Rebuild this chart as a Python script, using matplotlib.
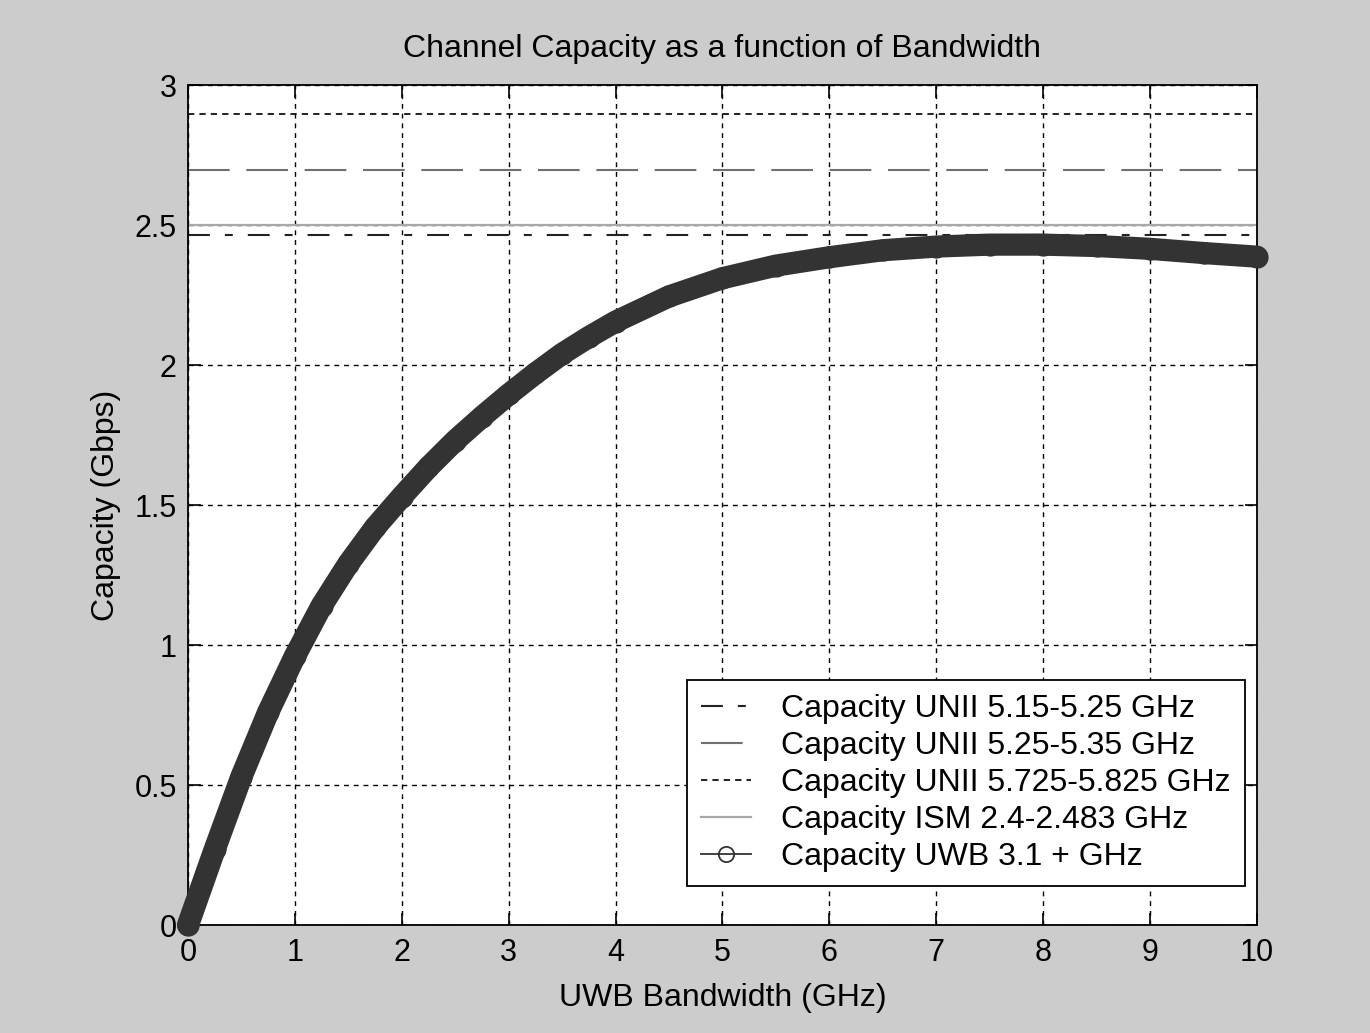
import matplotlib.pyplot as plt
from matplotlib.lines import Line2D

# UWB channel capacity vs. occupied bandwidth (GHz -> Gbps)
bandwidth = [0, 0.25, 0.5, 0.75, 1, 1.25, 1.5, 1.75, 2, 2.25, 2.5, 2.75, 3, 3.25,
             3.5, 3.75, 4, 4.5, 5, 5.5, 6, 6.5, 7, 7.5, 8, 8.5, 9, 9.5, 10]
capacity_uwb = [0, 0.27, 0.53, 0.76, 0.96, 1.14, 1.29, 1.42, 1.53, 1.635, 1.73, 1.815,
                1.895, 1.97, 2.04, 2.10, 2.155, 2.245, 2.31, 2.355, 2.385, 2.41, 2.423,
                2.43, 2.43, 2.425, 2.415, 2.40, 2.387]

# flat capacities of the narrowband allocations
cap_unii_low = 2.466    # UNII 5.15-5.25
cap_unii_mid = 2.695    # UNII 5.25-5.35
cap_unii_up = 2.897     # UNII 5.725-5.825
cap_ism = 2.50          # ISM 2.4-2.483

labels = ['Capacity UNII 5.15-5.25 GHz', 'Capacity UNII 5.25-5.35 GHz',
          'Capacity UNII 5.725-5.825 GHz', 'Capacity ISM 2.4-2.483 GHz',
          'Capacity UWB 3.1 + GHz']

plt.rcParams['font.family'] = ['Liberation Sans', 'DejaVu Sans']
FS = 23

fig = plt.figure(figsize=(13.7, 10.33), dpi=100, facecolor='#cccccc')
ax = fig.add_axes([0.1372, 0.1045, 0.7803, 0.8132])
ax.set_facecolor('white')

h1 = ax.axhline(cap_unii_low, color='#222222', lw=1.5, dashes=(10.5, 7.2, 3.8, 7.2))
h2 = ax.axhline(cap_unii_mid, color='#707070', lw=1.5, dashes=(20, 8))
h3 = ax.axhline(cap_unii_up, color='#111111', lw=1.3, dashes=(3.5, 2.8))
h4 = ax.axhline(cap_ism, color='#a8a8a8', lw=1.6)

ax.plot(bandwidth, capacity_uwb, color='#333333', lw=16, marker='o', ms=15,
        solid_capstyle='round', solid_joinstyle='round', clip_on=False, zorder=5)
h5 = Line2D([], [], color='#333333', lw=1.3, marker='o', ms=11,
            markerfacecolor='none', markeredgecolor='#333333', markeredgewidth=1.3)

ax.set_xlim(0, 10)
ax.set_ylim(0, 3)
ax.set_xticks(range(0, 11))
ax.set_yticks([0, 0.5, 1, 1.5, 2, 2.5, 3])
ax.set_yticklabels(['0', '0.5', '1', '1.5', '2', '2.5', '3'])
ax.grid(True, color='black', lw=1.0, dashes=(3.5, 3.5))
ax.tick_params(direction='in', length=9, width=1.2, top=True, right=True,
               labelsize=22)
ax.tick_params(axis='x', pad=9)
ax.tick_params(axis='y', pad=8)
for s in ax.spines.values():
    s.set_linewidth(1.3)

ax.set_title('Channel Capacity as a function of Bandwidth', fontsize=FS, pad=20)
ax.set_xlabel('UWB Bandwidth (GHz)', fontsize=FS, labelpad=11)
ax.set_ylabel('Capacity (Gbps)', fontsize=FS, labelpad=10)

leg = ax.legend([h1, h2, h3, h4, h5], labels, loc='lower right',
                bbox_to_anchor=(0.989, 0.046), fontsize=FS, frameon=True,
                fancybox=False, edgecolor='black', framealpha=1,
                handlelength=1.55, handletextpad=0.95, labelspacing=0.22,
                borderpad=0.45, borderaxespad=0)
leg.get_frame().set_linewidth(1.3)
leg.set_zorder(10)

fig.savefig('out.png', dpi=100, facecolor=fig.get_facecolor())
